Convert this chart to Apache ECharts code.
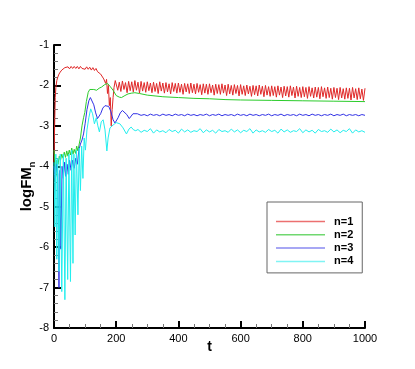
<!DOCTYPE html>
<html>
<head>
<meta charset="utf-8">
<script src="https://cdn.jsdelivr.net/npm/echarts@6/dist/echarts.min.js"></script>
<style>
  html, body { margin: 0; padding: 0; background: #fff; }
  #chart { width: 415px; height: 369px; }
</style>
</head>
<body>
<div id="chart"></div>
<script>
// series names (legend)
var names = ["n=1", "n=2", "n=3", "n=4"];
var xTicks = [0, 200, 400, 600, 800, 1000];
var yTicks = [-8, -7, -6, -5, -4, -3, -2, -1];

// n=1 : t / logFM
var t1 = [0, 2, 4, 6, 9, 12, 16, 20, 25, 30,
  35, 40, 45, 50, 55, 60, 65, 70, 75, 80, 85, 90, 95, 100, 105, 110, 115, 120, 125, 130, 135, 140, 145,
  150, 155, 160, 163, 166, 169, 172, 175, 178, 181, 184, 187, 190, 193, 197,
  200, 205, 210, 215, 220, 225, 230, 235, 240, 245, 250, 255, 260, 265, 270, 275, 280, 285, 290, 295,
  300, 305, 310, 315, 320, 325, 330, 335, 340, 345, 350, 355, 360, 365, 370, 375, 380, 385, 390, 395,
  400, 405, 410, 415, 420, 425, 430, 435, 440, 445, 450, 455, 460, 465, 470, 475, 480, 485, 490, 495,
  500, 505, 510, 515, 520, 525, 530, 535, 540, 545, 550, 555, 560, 565, 570, 575, 580, 585, 590, 595,
  600, 605, 610, 615, 620, 625, 630, 635, 640, 645, 650, 655, 660, 665, 670, 675, 680, 685, 690, 695,
  700, 705, 710, 715, 720, 725, 730, 735, 740, 745, 750, 755, 760, 765, 770, 775, 780, 785, 790, 795,
  800, 805, 810, 815, 820, 825, 830, 835, 840, 845, 850, 855, 860, 865, 870, 875, 880, 885, 890, 895,
  900, 905, 910, 915, 920, 925, 930, 935, 940, 945, 950, 955, 960, 965, 970, 975, 980, 985, 990, 995, 1000];
var v1 = [-3.9, -3.0, -2.3, -2.05, -1.88, -1.8, -1.72, -1.67, -1.62, -1.58,
  -1.56, -1.6, -1.54, -1.59, -1.53, -1.58, -1.53, -1.58, -1.53, -1.59, -1.53, -1.58, -1.54, -1.6, -1.54, -1.6, -1.55, -1.62, -1.56, -1.63, -1.58, -1.66, -1.62,
  -1.72, -1.7, -1.84, -1.8, -1.95, -1.85, -2.2, -2.0, -2.5, -2.3, -3.0, -2.6, -2.3, -2.05, -1.88,
  -1.90, -2.12, -1.92, -2.15, -1.89, -2.10, -1.93, -2.18, -1.90, -2.13, -1.91, -2.16, -1.88, -2.12, -1.92, -2.19, -1.90, -2.14, -1.93, -2.17,
  -1.91, -2.13, -1.94, -2.18, -1.92, -2.15, -1.95, -2.20, -1.91, -2.14, -1.94, -2.19, -1.93, -2.16, -1.96, -2.21, -1.93, -2.15, -1.95, -2.19,
  -1.94, -2.17, -1.97, -2.22, -1.95, -2.16, -1.96, -2.20, -1.94, -2.18, -1.97, -2.21, -1.95, -2.17, -1.98, -2.23, -1.96, -2.19, -1.97, -2.22,
  -1.96, -2.18, -1.99, -2.24, -1.97, -2.20, -1.98, -2.22, -1.96, -2.19, -1.99, -2.25, -1.97, -2.21, -2.00, -2.24, -1.98, -2.20, -2.00, -2.26,
  -1.98, -2.22, -2.01, -2.25, -1.99, -2.21, -2.02, -2.27, -2.00, -2.23, -2.01, -2.26, -1.99, -2.22, -2.02, -2.28, -2.00, -2.24, -2.03, -2.27,
  -2.01, -2.25, -2.03, -2.29, -2.01, -2.24, -2.04, -2.30, -2.02, -2.26, -2.03, -2.29, -2.01, -2.25, -2.04, -2.31, -2.02, -2.27, -2.05, -2.30,
  -2.03, -2.28, -2.05, -2.32, -2.03, -2.27, -2.06, -2.31, -2.04, -2.29, -2.05, -2.33, -2.03, -2.28, -2.06, -2.32, -2.04, -2.30, -2.07, -2.34,
  -2.05, -2.30, -2.07, -2.35, -2.05, -2.31, -2.08, -2.34, -2.06, -2.32, -2.07, -2.36, -2.05, -2.31, -2.08, -2.35, -2.06, -2.33, -2.09, -2.37, -2.07];

// n=2
var t2 = [0, 3, 6, 9, 13, 17, 21, 25, 29, 33, 37, 41, 45, 49, 53, 57, 61, 65, 69, 73,
  77, 81, 85, 90, 95, 99, 104, 110, 115, 120, 128, 137, 145, 153, 163, 172, 180, 190, 200, 210,
  217, 228, 238, 250, 260, 275, 300, 325, 350, 400, 450, 500, 550, 600, 700, 800, 900, 1000];
var v2 = [-3.6, -3.9, -4.25, -3.85, -3.95, -3.75, -3.85, -3.7, -3.8, -3.65, -3.78, -3.62, -3.75, -3.6, -3.72, -3.55, -3.7, -3.58, -3.68, -3.5,
  -3.62, -3.45, -3.3, -3.0, -2.8, -2.67, -2.4, -2.17, -2.1, -2.08, -2.1, -2.12, -2.07, -2.04, -1.98, -1.95, -2.02, -2.12, -2.25, -2.29,
  -2.3, -2.25, -2.21, -2.19, -2.18, -2.2, -2.24, -2.26, -2.28, -2.3, -2.32, -2.33, -2.35, -2.36, -2.37, -2.38, -2.39, -2.4];

// n=3
var t3 = [0, 4, 8, 12, 16, 19, 22, 26, 30, 34, 38, 42, 46, 50, 55, 60, 65, 70, 75, 80,
  85, 90, 95, 100, 106, 112, 117, 122, 128, 134, 140, 145, 150, 157, 164, 170, 176, 183, 190, 196,
  200, 206, 213, 220, 226, 234, 242, 248, 254, 259, 268, 280,
  290, 300, 310, 320, 330, 340, 350, 360, 370, 380, 390, 400, 410, 420, 430, 440, 450, 460, 470, 480,
  490, 500, 510, 520, 530, 540, 550, 560, 570, 580, 590, 600, 610, 620, 630, 640, 650, 660, 670, 680,
  690, 700, 710, 720, 730, 740, 750, 760, 770, 780, 790, 800, 810, 820, 830, 840, 850, 860, 870, 880,
  890, 900, 910, 920, 930, 940, 950, 960, 970, 980, 990, 1000];
var v3 = [-4.0, -4.3, -3.95, -4.2, -7.0, -4.1, -6.05, -4.0, -4.3, -3.9, -4.25, -3.95, -4.2, -3.85, -4.1, -3.85, -4.05, -3.8, -3.95, -3.6,
  -3.45, -3.35, -3.2, -2.95, -2.6, -2.38, -2.3, -2.32, -2.48, -2.68, -2.82, -2.85, -2.7, -2.56, -2.5, -2.49, -2.52, -2.65, -2.85, -2.93,
  -2.94, -2.8, -2.68, -2.62, -2.63, -2.72, -2.82, -2.78, -2.7, -2.67, -2.7, -2.74,
  -2.72, -2.75, -2.71, -2.74, -2.72, -2.75, -2.71, -2.74, -2.72, -2.75, -2.71, -2.74, -2.72, -2.75, -2.71, -2.74, -2.72, -2.75, -2.72, -2.74,
  -2.71, -2.75, -2.72, -2.74, -2.71, -2.75, -2.72, -2.74, -2.72, -2.75, -2.71, -2.74, -2.72, -2.75, -2.71, -2.74, -2.72, -2.75, -2.72, -2.74,
  -2.71, -2.75, -2.72, -2.74, -2.71, -2.75, -2.72, -2.74, -2.72, -2.75, -2.71, -2.74, -2.72, -2.75, -2.71, -2.74, -2.72, -2.75, -2.72, -2.74,
  -2.71, -2.75, -2.72, -2.74, -2.71, -2.75, -2.72, -2.74, -2.72, -2.75, -2.72, -2.74];

// n=4
var t4 = [0, 3, 6, 9, 12, 16, 20, 25, 30, 35, 39, 44, 48, 53, 57, 61, 64, 68, 72, 77,
  81, 85, 89, 93, 97, 101, 106, 112, 118, 124, 130, 136, 141, 146, 152, 158, 164, 170, 174, 180,
  190, 200, 212, 222, 233, 241, 248, 256, 263,
  270, 280, 290, 300, 310, 320, 330, 340, 350, 360, 370, 380, 390, 400, 410, 420, 430, 440, 450, 460,
  470, 480, 490, 500, 510, 520, 530, 540, 550, 560, 570, 580, 590, 600, 610, 620, 630, 640, 650, 660,
  670, 680, 690, 700, 710, 720, 730, 740, 750, 760, 770, 780, 790, 800, 810, 820, 830, 840, 850, 860,
  870, 880, 890, 900, 910, 920, 930, 940, 950, 960, 970, 980, 990, 1000];
var v4 = [-3.9, -5.5, -3.7, -6.3, -3.8, -6.6, -3.7, -7.1, -3.7, -7.3, -3.8, -6.8, -3.7, -6.85, -3.6, -6.4, -3.7, -5.7, -3.6, -5.2,
  -3.55, -4.6, -3.5, -4.3, -3.3, -3.6, -3.1, -2.8, -2.58, -2.7, -2.95, -2.8, -3.0, -3.15, -2.9, -2.85, -3.1, -3.62, -3.3, -3.05,
  -2.98, -2.92, -2.95, -3.05, -3.2, -3.08, -3.03, -3.1, -3.12,
  -3.09, -3.16, -3.11, -3.14, -3.07, -3.18, -3.10, -3.15, -3.12, -3.17, -3.09, -3.14, -3.11, -3.18, -3.08, -3.15, -3.10, -3.16, -3.12, -3.14,
  -3.07, -3.17, -3.10, -3.15, -3.11, -3.18, -3.09, -3.14, -3.12, -3.16, -3.08, -3.15, -3.10, -3.17, -3.11, -3.14, -3.07, -3.18, -3.10, -3.15,
  -3.12, -3.16, -3.09, -3.14, -3.11, -3.18, -3.08, -3.15, -3.10, -3.16, -3.12, -3.14, -3.07, -3.17, -3.10, -3.15, -3.11, -3.18, -3.09, -3.14,
  -3.12, -3.16, -3.08, -3.15, -3.10, -3.17, -3.11, -3.14, -3.07, -3.18, -3.10, -3.15, -3.12, -3.16];

var colors = ["#e02828", "#2ccc2c", "#3232e6", "#22eeee"];
var legendColors = ["#ec7070", "#70d870", "#8a8af0", "#80f4f4"];

function pairs(t, v) {
  var out = [];
  for (var i = 0; i < t.length; i++) out.push([t[i], v[i]]);
  return out;
}

var chart = echarts.init(document.getElementById("chart"), null, { renderer: "canvas" });

var allT = [t1, t2, t3, t4];
var allV = [v1, v2, v3, v4];
var series = [];
var legendData = [];
for (var i = 0; i < names.length; i++) {
  series.push({
    name: names[i],
    type: "line",
    symbol: "none",
    showSymbol: false,
    lineStyle: { width: 1, color: colors[i] },
    itemStyle: { color: colors[i] },
    data: pairs(allT[i], allV[i]),
  });
  legendData.push({
    name: names[i],
    icon: "rect",
    itemStyle: { color: legendColors[i], borderWidth: 0, borderColor: legendColors[i] },
    lineStyle: { width: 0, opacity: 0 },
  });
}

var font = "Liberation Sans, Arial, sans-serif";

var option = {
  animation: false,
  backgroundColor: "#fff",
  grid: { left: 54, right: 50, top: 45, bottom: 41 },
  legend: {
    data: legendData,
    orient: "vertical",
    left: 267,
    top: 202,
    padding: [13, 9, 5, 9],
    itemWidth: 49,
    itemHeight: 1.5,
    itemGap: 0.3,
    borderColor: "#666",
    borderWidth: 1,
    borderRadius: 0,
    textStyle: { color: "#000", fontWeight: "bold", fontSize: 11, lineHeight: 13, fontFamily: font, padding: [0, 0, 0, 4] },
  },
  xAxis: {
    type: "value",
    min: xTicks[0],
    max: xTicks[xTicks.length - 1],
    interval: 200,
    name: "t",
    nameLocation: "middle",
    nameGap: 12,
    nameMoveOverlap: false,
    nameTextStyle: { color: "#000", fontWeight: "bold", fontSize: 14, fontFamily: font },
    axisLine: { lineStyle: { color: "#000", width: 2 } },
    axisTick: { inside: true, length: 7, lineStyle: { color: "#000", width: 2 } },
    minorTick: { show: true, splitNumber: 4, length: 4, lineStyle: { color: "#777", width: 1 } },
    axisLabel: { color: "#000", fontSize: 11, fontFamily: font, margin: 5, formatter: function (v) { return String(v); } },
    splitLine: { show: false },
  },
  yAxis: {
    type: "value",
    min: yTicks[0],
    max: yTicks[yTicks.length - 1],
    interval: 1,
    name: "{a|logFM}{b|n}",
    nameLocation: "middle",
    nameGap: 17,
    nameMoveOverlap: false,
    nameTextStyle: {
      color: "#000",
      fontFamily: font,
      rich: {
        a: { fontSize: 15, fontWeight: "bold", fontFamily: font, color: "#000", lineHeight: 20, verticalAlign: "middle" },
        b: { fontSize: 9, fontWeight: "bold", fontFamily: font, color: "#000", lineHeight: 20, verticalAlign: "bottom" },
      },
    },
    axisLine: { lineStyle: { color: "#000", width: 2 } },
    axisTick: { inside: true, length: 7, lineStyle: { color: "#000", width: 2 } },
    minorTick: { show: true, splitNumber: 5, length: 4, lineStyle: { color: "#777", width: 1 } },
    axisLabel: { color: "#000", fontSize: 11, fontFamily: font, margin: 5 },
    splitLine: { show: false },
  },
  series: series,
};

chart.setOption(option);
</script>
</body>
</html>
